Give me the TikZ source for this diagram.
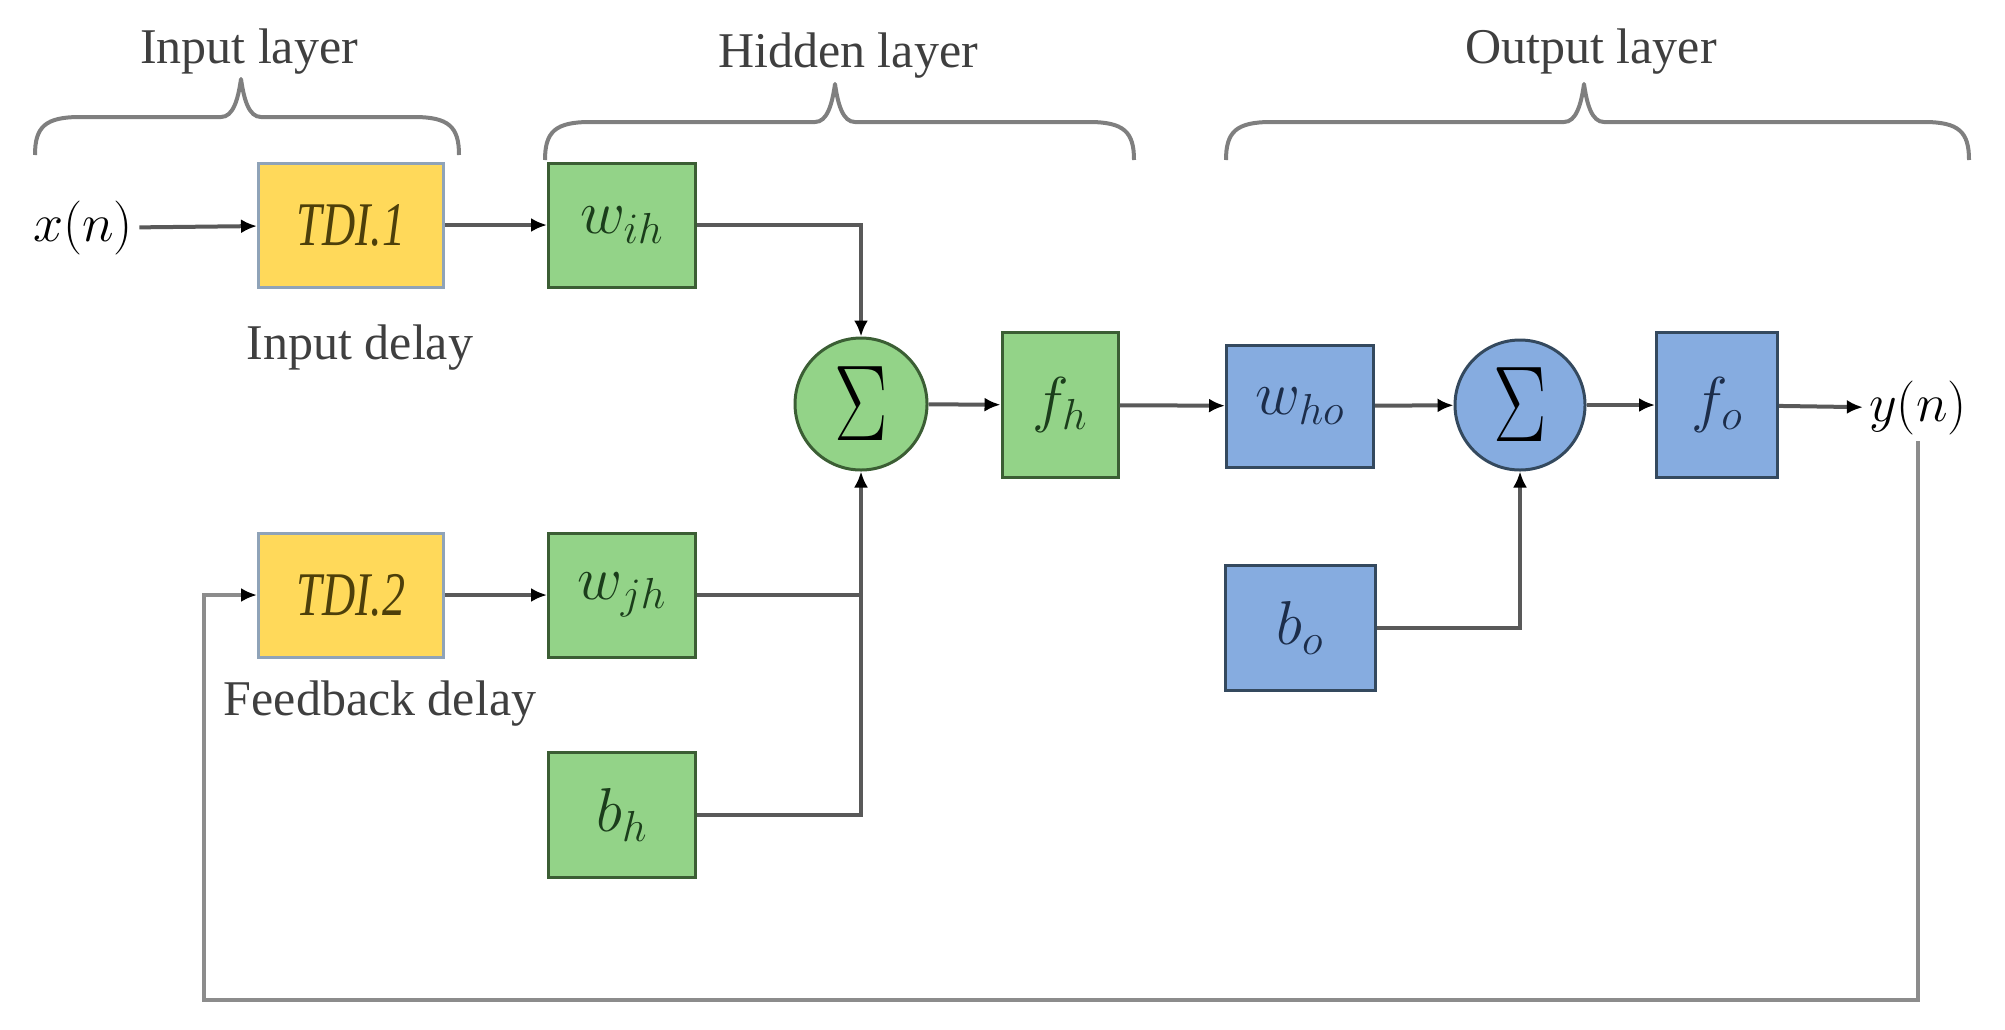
\RequirePackage{fix-cm}
\documentclass[tikz,border=0pt]{standalone}
\usepackage{fontspec}
\usepackage{graphicx}
\setmainfont{Liberation Serif}
\usetikzlibrary{arrows.meta}
\definecolor{yel}{HTML}{FFD95A}
\definecolor{yelb}{HTML}{8FA3B8}
\definecolor{yeltext}{HTML}{4D3F0A}
\definecolor{grn}{HTML}{93D388}
\definecolor{grnb}{HTML}{3B5E34}
\definecolor{grntext}{HTML}{1B3D1B}
\definecolor{blu}{HTML}{86ACE0}
\definecolor{blub}{HTML}{34495E}
\definecolor{blutext}{HTML}{1C2D4A}
\definecolor{wirec}{HTML}{595959}
\definecolor{fbwire}{HTML}{8C8C8C}
\definecolor{bracec}{HTML}{7F7F7F}
\definecolor{lblc}{HTML}{3F3F3F}
\newcommand\tallbox[1]{\scalebox{1}[1.35]{#1}}
\newcommand\layerbrace[4]{% left, tip, right, top y
  \draw[bracestyle] (#1,{#4+38}) .. controls (#1,{#4+10}) and ({#1+10},#4) .. ({#1+45},#4)
    -- ({#2-20},#4) .. controls ({#2-8},#4) and ({#2-3},{#4-17}) .. (#2,{#4-38})
    .. controls ({#2+3},{#4-17}) and ({#2+8},#4) .. ({#2+20},#4)
    -- ({#3-45},#4) .. controls ({#3-10},#4) and (#3,{#4+10}) .. (#3,{#4+38});}
\begin{document}
\begin{tikzpicture}[x=0.5pt,y=-0.5pt,
  tdibox/.style={draw=yelb, fill=yel, line width=1.5pt, minimum width=92.5pt, minimum height=62pt,
    inner sep=0pt, text=yeltext, font=\fontsize{23}{27}\selectfont\itshape},
  gbox/.style={draw=grnb, fill=grn, line width=1.5pt, inner sep=0pt, text=grntext,
    font=\fontsize{31}{35}\selectfont},
  bbox/.style={draw=blub, fill=blu, line width=1.5pt, inner sep=0pt, text=blutext,
    font=\fontsize{31}{35}\selectfont},
  gsum/.style={circle, draw=grnb, fill=grn, line width=1.5pt, minimum size=66pt, inner sep=0pt,
    font=\fontsize{40}{44}\selectfont},
  bsum/.style={circle, draw=blub, fill=blu, line width=1.5pt, minimum size=65pt, inner sep=0pt,
    font=\fontsize{40}{44}\selectfont},
  sig/.style={font=\fontsize{27}{32}\selectfont, inner sep=3pt},
  wire/.style={draw=wirec, line width=2pt},
  arr/.style={wire, -{Latex[length=8pt,width=7pt,color=black]}},
  fb/.style={draw=fbwire, line width=2pt, -{Latex[length=8pt,width=7pt,color=black]}},
  lbl/.style={text=lblc, font=\fontsize{25}{30}\selectfont, inner sep=0pt},
  bracestyle/.style={draw=bracec, line width=2pt, line join=round}
]
\useasboundingbox (0,0) rectangle (2005,1029);

% layer labels and braces
\node[lbl] (linput) at (249,52) {Input layer};
\node[lbl] (lhidden) at (848,56) {Hidden layer};
\node[lbl] (loutput) at (1591,52) {Output layer};
\layerbrace{35}{241}{459}{117}
\layerbrace{545}{835}{1134}{122}
\layerbrace{1226}{1584}{1969}{122}

% nodes
\node[sig] (xn) at (83,228) {$x(n)$};
\node[tdibox] (tdi1) at (351,225) {\tallbox{TDI.1}};
\node[gbox, minimum width=73.5pt, minimum height=62pt] (wih) at (622,225) {$w_{ih}$};
\node[lbl] (indelay) at (360,348) {Input delay};
\node[gsum] (sum1) at (861,404) {\tallbox{$\Sigma$}};
\node[gbox, minimum width=58pt, minimum height=72.5pt] (fh) at (1060,405) {$f_h$};
\node[bbox, minimum width=73.5pt, minimum height=61pt] (who) at (1300,406) {$w_{ho}$};
\node[bsum] (sum2) at (1520,405) {\tallbox{$\Sigma$}};
\node[bbox, minimum width=60.5pt, minimum height=72.5pt] (fo) at (1717,405) {$f_o$};
\node[sig] (yn) at (1918,408) {$y(n)$};
\node[tdibox] (tdi2) at (351,595) {\tallbox{TDI.2}};
\node[gbox, minimum width=73.5pt, minimum height=62pt] (wjh) at (622,595) {$w_{jh}$};
\node[lbl] (fbdelay) at (380,704) {Feedback delay};
\node[gbox, minimum width=73.5pt, minimum height=62.5pt] (bh) at (622,815) {$b_h$};
\node[bbox, minimum width=75pt, minimum height=62.5pt] (bo) at (1300,628) {$b_o$};

\coordinate (fbr) at (1918,1000);
\coordinate (fbl) at (204,1000);

% connectors
\draw[arr] (xn) -- (tdi1);
\draw[arr] (tdi1) -- (wih);
\draw[arr] (wih.east) -| (sum1.north);
\draw[wire] (wjh.east) -- (wjh.east -| sum1.south);
\draw[arr] (bh.east) -| (sum1.south);
\draw[arr] (sum1) -- (fh);
\draw[arr] (fh) -- (who);
\draw[arr] (who) -- (sum2);
\draw[arr] (bo.east) -| (sum2.south);
\draw[arr] (sum2) -- (fo);
\draw[arr] (fo) -- (yn);
\draw[arr] (tdi2) -- (wjh);
\draw[fb] (yn.south) -- (fbr) -- (fbl) |- (tdi2.west);
\end{tikzpicture}
\end{document}
